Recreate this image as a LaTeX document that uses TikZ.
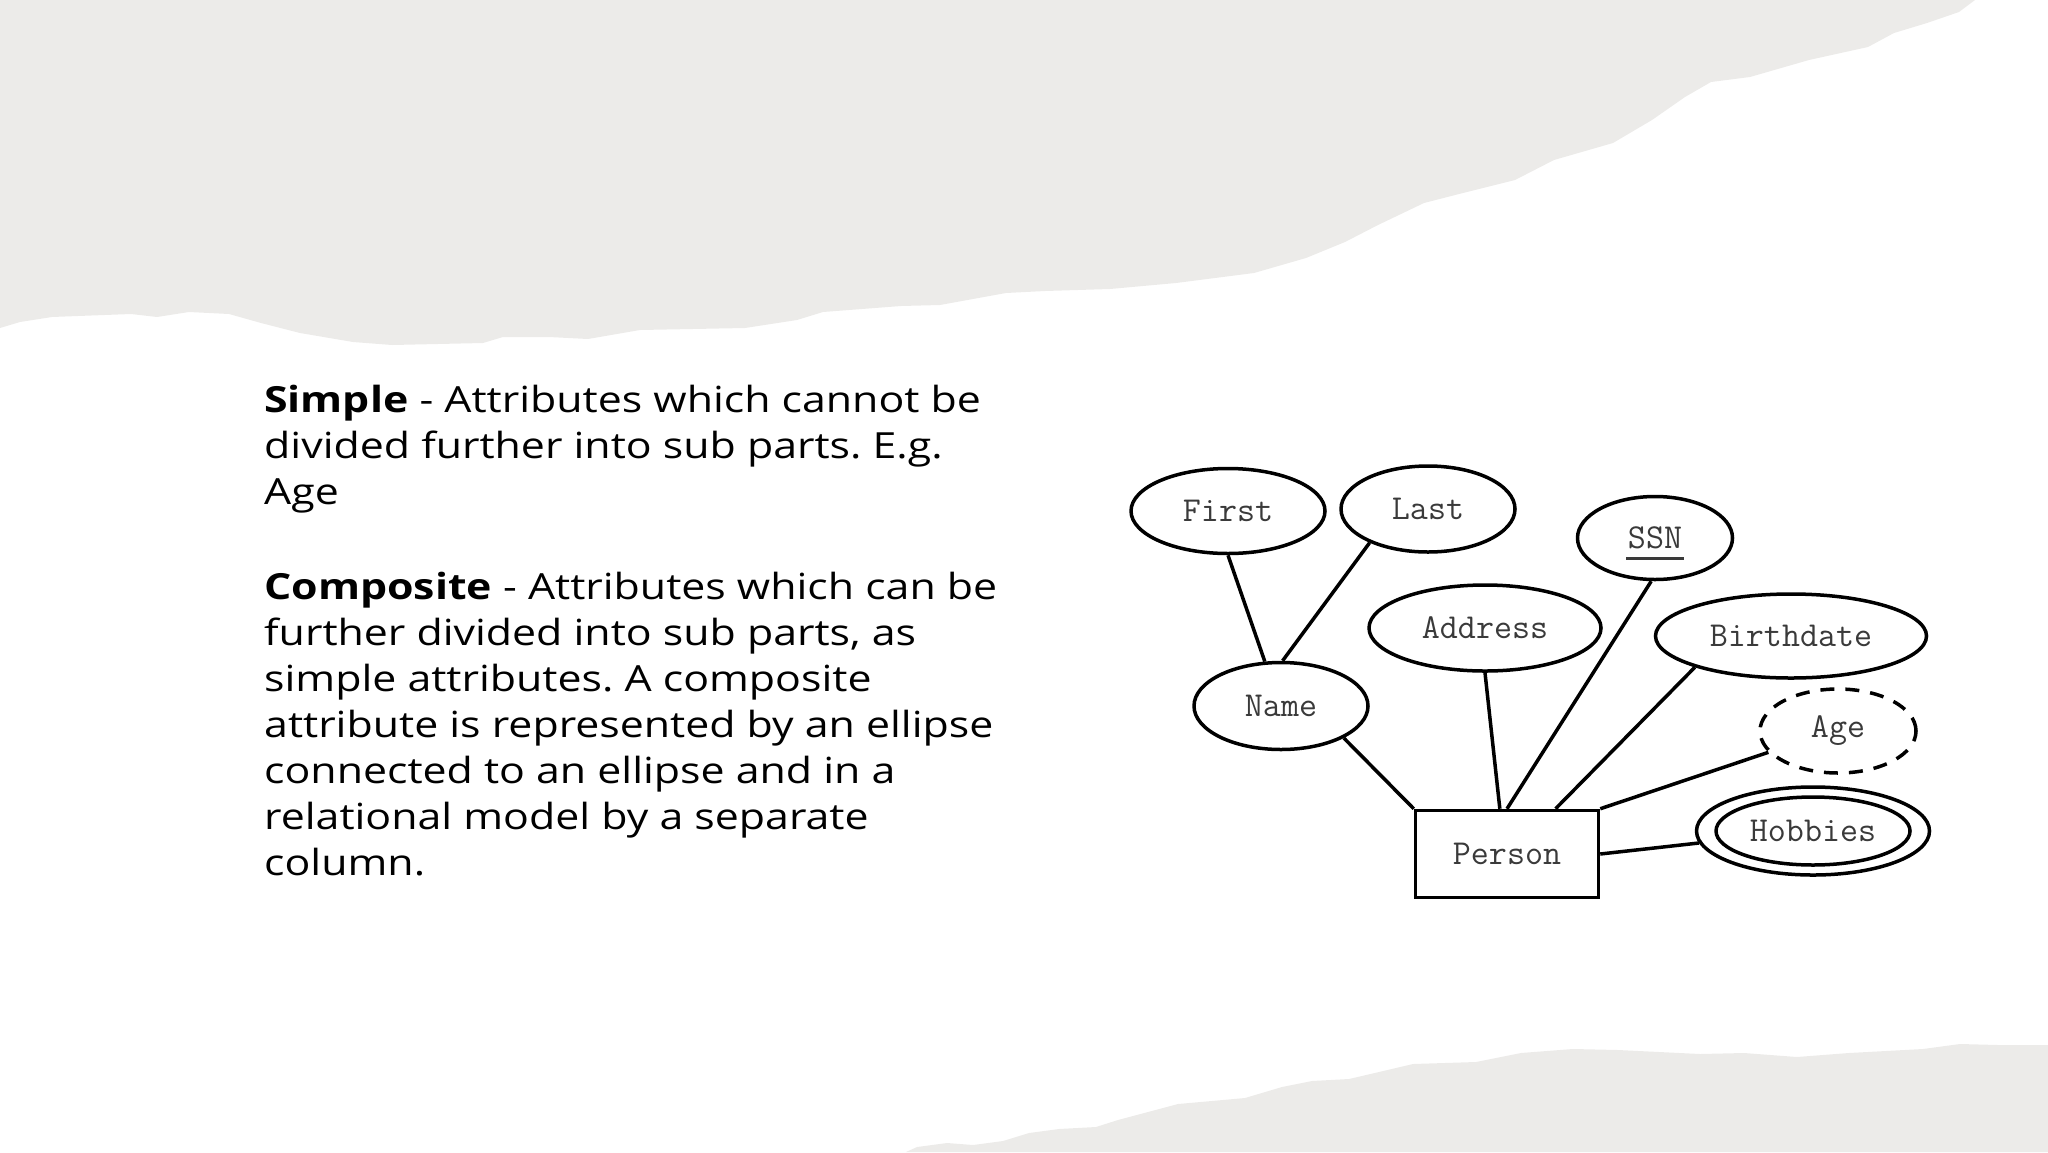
\documentclass[tikz,border=0pt]{standalone}
\usepackage{fontspec}
\setmainfont{Open Sans}[FakeStretch=1.19]
\usetikzlibrary{shapes.geometric}
\definecolor{paper}{HTML}{ECEBE9}
\definecolor{ink}{HTML}{3A3A3A}
\frenchspacing

\begin{document}
\begin{tikzpicture}[x=1pt,y=-1pt,
    attr/.style={ellipse, draw, line width=3.5pt, inner sep=0pt, text=ink,
      font=\ttfamily\fontsize{35}{35}\selectfont},
    entity/.style={rectangle, draw, line width=3.5pt, inner sep=0pt, text=ink,
      font=\ttfamily\fontsize{35}{35}\selectfont},
    link/.style={line width=3.5pt}]
    \useasboundingbox (0,0) rectangle (2048,1152);

    % Torn paper
    \fill[paper] (0,0) -- (0,328) -- (20,322) -- (52,317) -- (78,316) -- (131,314)
      -- (157,317) -- (189,312) -- (229,314) -- (261,323) -- (300,333) -- (353,342)
      -- (392,345) -- (483,343) -- (503,337) -- (549,337) -- (588,339) -- (640,330)
      -- (745,328) -- (797,320) -- (823,312) -- (901,306) -- (940,305) -- (1006,293)
      -- (1045,291) -- (1110,289) -- (1176,283) -- (1254,273) -- (1306,258)
      -- (1345,242) -- (1378,225) -- (1424,203) -- (1463,193) -- (1515,180)
      -- (1554,160) -- (1613,143) -- (1652,120) -- (1685,97) -- (1711,82)
      -- (1750,77) -- (1809,60) -- (1868,47) -- (1894,33) -- (1927,23)
      -- (1959,12) -- (1975,0) -- cycle;
    \fill[paper] (906,1152) -- (917,1147) -- (947,1143) -- (973,1145) -- (1003,1141)
      -- (1029,1133) -- (1059,1129) -- (1096,1127) -- (1118,1120) -- (1148,1112)
      -- (1178,1104) -- (1223,1100) -- (1245,1098) -- (1282,1087) -- (1312,1081)
      -- (1349,1079) -- (1379,1072) -- (1413,1064) -- (1476,1062) -- (1521,1053)
      -- (1573,1049) -- (1618,1050) -- (1700,1054) -- (1744,1053) -- (1797,1057)
      -- (1849,1053) -- (1923,1049) -- (1960,1044) -- (1998,1045) -- (2048,1045)
      -- (2048,1152) -- cycle;

    % Text
    \node[anchor=north west, align=left, inner sep=0pt,
      font=\fontsize{36}{46}\selectfont] (desc) at (264,385)
      {\textbf{Simple} - Attributes which cannot be\\
       divided further into sub parts. E.g.\\
       Age\\[49pt]
       \textbf{Composite} - Attributes which can be\\
       further divided into sub parts, as\\
       simple attributes. A composite\\
       attribute is represented by an ellipse\\
       connected to an ellipse and in a\\
       relational model by a separate\\
       column.};

    % Entity and attributes
    \node[entity, minimum width=183pt, minimum height=87pt] (person) at (1507,854) {Person};
    \node[attr, minimum width=194pt, minimum height=85pt] (first) at (1228,511) {First};
    \node[attr, minimum width=174pt, minimum height=86pt] (last) at (1428,509) {Last};
    \node[attr, minimum width=155pt, minimum height=83pt] (ssn) at (1655,538) {SSN};
    \node[attr, minimum width=232pt, minimum height=86pt] (address) at (1485,628) {Address};
    \node[attr, minimum width=271pt, minimum height=84pt] (birth) at (1791,636) {Birthdate};
    \node[attr, minimum width=174pt, minimum height=87pt] (name) at (1281,706) {Name};
    \node[attr, minimum width=156pt, minimum height=84pt,
      dash pattern=on 14pt off 11pt] (age) at (1838,731) {Age};
    \node[attr, minimum width=233pt, minimum height=88pt] (hobbies) at (1813,831) {};
    \node[attr, minimum width=194pt, minimum height=68pt] (hobbiesin) at (hobbies) {Hobbies};

    % Key underline
    \draw[line width=3pt, ink] ([shift={(-29pt,-20pt)}]ssn.center)
      -- ([shift={(29pt,-20pt)}]ssn.center);

    % Links
    \draw[link] (first.270) -- (name.110);
    \draw[link] (last.210) -- (name.88);
    \draw[link] (name.333) -- (person.north west);
    \draw[link] (address.270) -- (person.99);
    \draw[link] (ssn.265) -- (person.north);
    \draw[link] (birth.198) -- (person.43);
    \draw[link] (age.197) -- (person.north east);
    \draw[link] (hobbies.186) -- (person.east);
\end{tikzpicture}
\end{document}
